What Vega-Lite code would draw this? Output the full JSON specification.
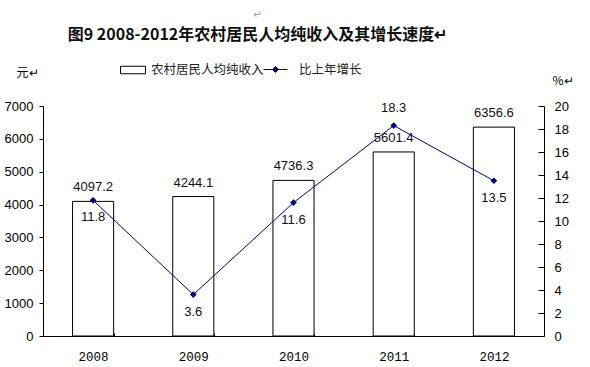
{
  "$schema": "https://vega.github.io/schema/vega-lite/v6.json",
  "width": 501,
  "height": 230,
  "autosize": {"type": "none"},
  "padding": {"left": 43, "top": 106, "right": 46, "bottom": 31},
  "background": "white",
  "config": {
    "view": {"stroke": null},
    "axis": {"grid": false, "domainColor": "black", "tickColor": "black", "labelColor": "black", "labelFont": "Liberation Sans", "labelFontSize": 13, "labelOverlap": false, "titleFont": "Noto Sans CJK SC", "titleFontWeight": "normal", "titleColor": "black"}
  },
  "title": {
    "text": "↵",
    "subtitle": "图9 2008-2012年农村居民人均纯收入及其增长速度↵",
    "font": "DejaVu Sans",
    "fontSize": 10,
    "fontWeight": "normal",
    "color": "#999999",
    "subtitleFont": "Noto Sans CJK SC",
    "subtitleFontSize": 16,
    "subtitleFontWeight": "bold",
    "subtitleColor": "#111111",
    "subtitlePadding": 7,
    "anchor": "middle",
    "frame": "group",
    "dx": -36,
    "offset": 14
  },
  "data": {
    "values": [
      {"year": "2008", "income": 4097.2, "growth": 11.8},
      {"year": "2009", "income": 4244.1, "growth": 3.6},
      {"year": "2010", "income": 4736.3, "growth": 11.6},
      {"year": "2011", "income": 5601.4, "growth": 18.3},
      {"year": "2012", "income": 6356.6, "growth": 13.5}
    ]
  },
  "encoding": {
    "x": {
      "field": "year",
      "type": "nominal",
      "scale": {"paddingInner": 0.59, "paddingOuter": 0.295},
      "axis": {"title": null, "labelAngle": 0, "tickBand": "extent", "tickSize": -3, "labelFont": "Liberation Mono", "labelFontSize": 12.5, "labelPadding": 17}
    }
  },
  "layer": [
    {
      "encoding": {
        "y": {
          "field": "income",
          "type": "quantitative",
          "scale": {"domain": [0, 7000], "nice": false},
          "axis": {"values": [0, 1000, 2000, 3000, 4000, 5000, 6000, 7000], "format": "d", "labelOverlap": false, "tickSize": 4, "labelPadding": 6, "title": "元↵", "titleAngle": 0, "titleX": -27, "titleY": -34, "titleAlign": "left", "titleBaseline": "middle", "titleFontSize": 12}
        }
      },
      "layer": [
        {
          "mark": {"type": "bar", "stroke": "black", "strokeWidth": 1},
          "encoding": {
            "fill": {
              "datum": "农村居民人均纯收入",
              "type": "nominal",
              "scale": {"range": ["white"]},
              "legend": {"orient": "none", "legendX": 77, "legendY": -49, "title": null, "symbolType": "M-1,-0.3H1V0.3H-1Z", "symbolSize": 625, "symbolStrokeColor": "black", "symbolStrokeWidth": 1, "labelFont": "Noto Sans CJK SC", "labelFontSize": 12.5, "labelColor": "#222222", "labelOffset": 5, "padding": 0}
            }
          }
        },
        {
          "mark": {"type": "text", "dy": -14, "font": "Liberation Sans", "fontSize": 13, "color": "#111111"},
          "encoding": {
            "text": {"field": "income", "type": "quantitative", "format": ".1f"}
          }
        }
      ]
    },
    {
      "encoding": {
        "y": {
          "field": "growth",
          "type": "quantitative",
          "scale": {"domain": [0, 20], "nice": false},
          "axis": {"orient": "right", "values": [0, 2, 4, 6, 8, 10, 12, 14, 16, 18, 20], "format": "d", "labelOverlap": false, "tickSize": -6, "labelPadding": 16, "title": "%↵", "titleAngle": 0, "titleX": 8, "titleY": -26, "titleAlign": "left", "titleBaseline": "middle", "titleFontSize": 12}
        }
      },
      "layer": [
        {
          "mark": {"type": "line", "strokeWidth": 1},
          "encoding": {
            "stroke": {
              "datum": "比上年增长",
              "type": "nominal",
              "scale": {"range": ["#000080"]},
              "legend": {"orient": "none", "legendX": 220, "legendY": -49, "title": null, "symbolType": "M-1,0H1M0,-0.25L0.25,0L0,0.25L-0.25,0Z", "symbolSize": 576, "symbolFillColor": "#000080", "symbolStrokeWidth": 1, "labelFont": "Noto Sans CJK SC", "labelFontSize": 12.5, "labelColor": "#222222", "labelOffset": 11, "padding": 0}
            }
          }
        },
        {
          "mark": {"type": "point", "shape": "diamond", "filled": true, "color": "#000080", "size": 45, "opacity": 1}
        },
        {
          "transform": [{"filter": "datum.year != '2011'"}],
          "mark": {"type": "text", "dy": 17, "font": "Liberation Sans", "fontSize": 13, "color": "#111111"},
          "encoding": {
            "text": {"field": "growth", "type": "quantitative", "format": ".1f"}
          }
        },
        {
          "transform": [{"filter": "datum.year == '2011'"}],
          "mark": {"type": "text", "dy": -18, "font": "Liberation Sans", "fontSize": 13, "color": "#111111"},
          "encoding": {
            "text": {"field": "growth", "type": "quantitative", "format": ".1f"}
          }
        }
      ]
    }
  ],
  "resolve": {"scale": {"y": "independent"}}
}
